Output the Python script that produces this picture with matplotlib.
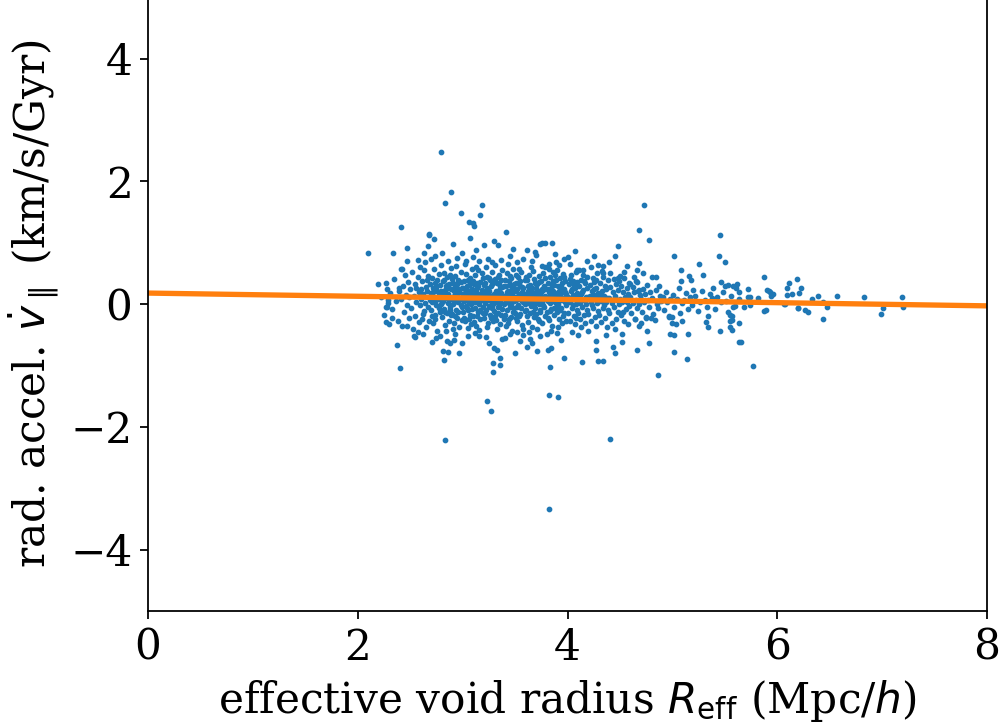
import numpy as np
import matplotlib as mpl
mpl.use("Agg")
import matplotlib.pyplot as plt

# (R_eff [Mpc/h], radial acceleration [km/s/Gyr])
core = [
    (2.22, 0.12), (2.25, -0.18), (2.27, 0.35), (2.29, 0.02),
    (2.31, 0.18), (2.33, -0.08), (2.35, 0.41), (2.36, 0.05), (2.38, -0.27), (2.39, 0.22),
    (2.41, 0.08), (2.42, -0.35), (2.43, 0.29), (2.44, -0.12), (2.45, 0.47), (2.46, 0.15),
    (2.47, -0.02), (2.48, 0.36), (2.49, -0.22), (2.49, 0.11),
    (2.50, 0.25), (2.51, -0.06), (2.52, 0.52), (2.53, -0.41), (2.54, 0.13), (2.55, 0.33),
    (2.55, -0.19), (2.56, 0.04), (2.57, 0.44), (2.58, -0.29), (2.58, 0.19), (2.59, -0.01),
    (2.59, 0.61), (2.56, 0.27),
    (2.60, 0.09), (2.61, -0.24), (2.61, 0.38), (2.62, 0.16), (2.63, -0.11), (2.63, 0.55),
    (2.64, 0.02), (2.65, 0.28), (2.65, -0.38), (2.66, 0.21), (2.67, -0.05), (2.67, 0.46),
    (2.68, 0.11), (2.68, -0.27), (2.69, 0.33), (2.69, 0.06), (2.64, 0.68), (2.62, -0.16),
    (2.66, 0.40), (2.60, 0.24),
    (2.70, 0.18), (2.70, -0.09), (2.71, 0.42), (2.71, 0.03), (2.72, -0.31), (2.72, 0.26),
    (2.73, 0.12), (2.73, 0.57), (2.74, -0.17), (2.74, 0.35), (2.75, 0.07), (2.75, -0.02),
    (2.76, 0.22), (2.76, -0.43), (2.77, 0.49), (2.77, 0.15), (2.78, -0.13), (2.78, 0.31),
    (2.79, 0.01), (2.79, 0.63), (2.72, 0.19), (2.74, -0.24), (2.76, 0.39), (2.78, 0.09),
    (2.71, -0.20), (2.75, 0.28), (2.77, -0.06), (2.79, 0.21),
    (2.80, 0.14), (2.80, -0.21), (2.81, 0.37), (2.81, 0.05), (2.82, -0.08), (2.82, 0.51),
    (2.83, 0.23), (2.83, -0.34), (2.84, 0.10), (2.84, 0.29), (2.85, -0.14), (2.85, 0.44),
    (2.86, 0.02), (2.86, 0.17), (2.87, -0.27), (2.87, 0.33), (2.88, 0.08), (2.88, -0.04),
    (2.89, 0.25), (2.89, 0.59), (2.81, 0.20), (2.83, -0.12), (2.85, 0.31), (2.87, 0.12),
    (2.89, -0.18), (2.82, 0.40), (2.84, -0.44), (2.86, 0.27), (2.88, 0.47), (2.80, 0.03),
    (2.85, 0.16), (2.88, -0.10),
    (2.90, 0.11), (2.90, -0.16), (2.91, 0.34), (2.91, 0.00), (2.92, 0.22), (2.92, -0.30),
    (2.93, 0.46), (2.93, 0.07), (2.94, -0.09), (2.94, 0.28), (2.95, 0.15), (2.95, -0.23),
    (2.96, 0.39), (2.96, 0.04), (2.97, 0.19), (2.97, -0.37), (2.98, 0.53), (2.98, 0.10),
    (2.99, -0.05), (2.99, 0.26), (2.90, 0.41), (2.91, -0.41), (2.92, 0.13), (2.93, -0.19),
    (2.94, 0.62), (2.95, 0.32), (2.96, -0.12), (2.97, 0.06), (2.98, 0.36), (2.99, -0.26),
    (2.92, 0.03), (2.94, 0.18), (2.96, 0.24), (2.98, -0.01), (2.93, 0.29),
    (3.00, 0.17), (3.00, -0.12), (3.01, 0.38), (3.01, 0.05), (3.02, -0.28), (3.02, 0.24),
    (3.03, 0.09), (3.03, 0.49), (3.04, -0.06), (3.04, 0.30), (3.05, 0.14), (3.05, -0.39),
    (3.06, 0.21), (3.06, 0.02), (3.07, 0.43), (3.07, -0.17), (3.08, 0.11), (3.08, 0.34),
    (3.09, -0.08), (3.09, 0.58), (3.00, 0.27), (3.01, -0.22), (3.02, 0.15), (3.03, -0.03),
    (3.04, 0.07), (3.05, 0.40), (3.06, -0.25), (3.07, 0.19), (3.08, -0.33), (3.09, 0.25),
    (3.02, 0.66), (3.04, 0.19), (3.06, 0.31), (3.08, 0.00), (3.05, -0.10), (3.07, 0.08),
    (3.10, 0.13), (3.10, -0.19), (3.11, 0.32), (3.11, 0.04), (3.12, 0.47), (3.12, -0.07),
    (3.13, 0.20), (3.13, -0.35), (3.14, 0.09), (3.14, 0.27), (3.15, -0.13), (3.15, 0.55),
    (3.16, 0.16), (3.16, 0.01), (3.17, 0.36), (3.17, -0.24), (3.18, 0.06), (3.18, 0.23),
    (3.19, -0.04), (3.19, 0.42), (3.10, 0.38), (3.11, -0.29), (3.12, 0.12), (3.13, 0.03),
    (3.14, -0.20), (3.15, 0.29), (3.16, -0.42), (3.17, 0.10), (3.18, 0.50), (3.19, 0.18),
    (3.11, 0.22), (3.13, 0.61), (3.15, 0.07), (3.17, -0.09), (3.19, -0.15), (3.14, 0.34),
    (3.20, 0.10), (3.20, -0.23), (3.21, 0.35), (3.21, 0.02), (3.22, 0.18), (3.22, -0.10),
    (3.23, 0.45), (3.23, 0.08), (3.24, -0.31), (3.24, 0.25), (3.25, 0.13), (3.25, -0.03),
    (3.26, 0.39), (3.26, -0.18), (3.27, 0.05), (3.27, 0.29), (3.28, -0.07), (3.28, 0.52),
    (3.29, 0.15), (3.29, -0.27), (3.20, 0.31), (3.21, -0.14), (3.22, 0.60), (3.23, -0.38),
    (3.24, 0.06), (3.25, 0.21), (3.26, 0.11), (3.27, -0.22), (3.28, 0.33), (3.29, 0.00),
    (3.21, 0.19), (3.23, 0.27), (3.25, 0.43), (3.27, 0.14), (3.29, 0.37), (3.26, -0.05),
    (3.30, 0.16), (3.30, -0.11), (3.31, 0.41), (3.31, 0.07), (3.32, -0.26), (3.32, 0.22),
    (3.33, 0.03), (3.33, 0.34), (3.34, -0.15), (3.34, 0.12), (3.35, 0.48), (3.35, -0.02),
    (3.36, 0.26), (3.36, -0.33), (3.37, 0.09), (3.37, 0.18), (3.38, -0.08), (3.38, 0.56),
    (3.39, 0.30), (3.39, 0.01), (3.30, 0.36), (3.31, -0.20), (3.32, 0.10), (3.33, -0.40),
    (3.34, 0.44), (3.35, 0.20), (3.36, 0.05), (3.37, -0.17), (3.38, 0.28), (3.39, -0.24),
    (3.31, 0.63), (3.33, 0.15), (3.35, 0.32), (3.37, 0.39), (3.39, 0.13), (3.34, -0.05),
    (3.40, 0.14), (3.40, -0.17), (3.41, 0.29), (3.41, 0.03), (3.42, 0.50), (3.42, -0.09),
    (3.43, 0.21), (3.43, -0.30), (3.44, 0.07), (3.44, 0.37), (3.45, -0.04), (3.45, 0.17),
    (3.46, 0.43), (3.46, -0.21), (3.47, 0.11), (3.47, 0.26), (3.48, -0.12), (3.48, 0.58),
    (3.49, 0.05), (3.49, 0.33), (3.40, 0.40), (3.41, -0.36), (3.42, 0.19), (3.43, 0.09),
    (3.44, -0.25), (3.45, 0.31), (3.46, 0.00), (3.47, -0.44), (3.48, 0.22), (3.49, -0.07),
    (3.41, 0.12), (3.43, 0.65), (3.45, 0.46), (3.47, 0.15), (3.49, 0.24), (3.44, 0.02),
    (3.50, 0.12), (3.50, -0.14), (3.51, 0.34), (3.51, 0.06), (3.52, -0.27), (3.52, 0.24),
    (3.53, 0.45), (3.53, -0.01), (3.54, 0.16), (3.54, -0.19), (3.55, 0.30), (3.55, 0.08),
    (3.56, -0.06), (3.56, 0.52), (3.57, 0.19), (3.57, -0.34), (3.58, 0.03), (3.58, 0.27),
    (3.59, -0.11), (3.59, 0.40), (3.50, 0.21), (3.51, -0.23), (3.52, 0.10), (3.53, 0.35),
    (3.54, 0.57), (3.55, -0.16), (3.56, 0.13), (3.57, 0.05), (3.58, -0.40), (3.59, 0.17),
    (3.51, 0.48), (3.53, 0.14), (3.55, 0.38), (3.57, 0.28), (3.59, 0.01), (3.52, -0.04),
    (3.60, 0.15), (3.60, -0.10), (3.61, 0.39), (3.61, 0.02), (3.62, 0.22), (3.62, -0.29),
    (3.63, 0.07), (3.63, 0.48), (3.64, -0.15), (3.64, 0.31), (3.65, 0.12), (3.65, -0.03),
    (3.66, 0.26), (3.66, -0.37), (3.67, 0.54), (3.67, 0.09), (3.68, -0.21), (3.68, 0.18),
    (3.69, 0.35), (3.69, -0.07), (3.60, 0.44), (3.61, -0.19), (3.62, 0.13), (3.63, -0.45),
    (3.64, 0.04), (3.65, 0.60), (3.66, 0.20), (3.67, -0.12), (3.68, 0.41), (3.69, 0.11),
    (3.62, 0.29), (3.64, 0.16), (3.66, 0.06), (3.68, 0.01),
    (3.70, 0.13), (3.70, -0.16), (3.71, 0.33), (3.71, 0.04), (3.72, -0.25), (3.72, 0.21),
    (3.73, 0.46), (3.73, 0.00), (3.74, 0.17), (3.74, -0.09), (3.75, 0.38), (3.75, 0.10),
    (3.76, -0.31), (3.76, 0.25), (3.77, 0.06), (3.77, 0.51), (3.78, -0.05), (3.78, 0.29),
    (3.79, 0.14), (3.79, -0.20), (3.70, 0.27), (3.71, -0.41), (3.72, 0.09), (3.73, 0.36),
    (3.74, -0.13), (3.75, 0.19), (3.76, 0.62), (3.77, -0.02), (3.78, 0.12), (3.79, 0.42),
    (3.71, 0.16), (3.73, -0.28), (3.75, 0.03), (3.77, 0.23),
    (3.80, 0.11), (3.80, -0.13), (3.81, 0.35), (3.81, 0.05), (3.82, 0.20), (3.82, -0.26),
    (3.83, 0.44), (3.83, 0.02), (3.84, -0.08), (3.84, 0.27), (3.85, 0.15), (3.85, -0.35),
    (3.86, 0.53), (3.86, 0.08), (3.87, -0.17), (3.87, 0.31), (3.88, 0.03), (3.88, 0.18),
    (3.89, -0.04), (3.89, 0.40), (3.80, 0.24), (3.81, -0.22), (3.82, 0.58), (3.83, 0.13),
    (3.84, -0.43), (3.85, 0.32), (3.86, 0.21), (3.87, -0.06), (3.88, 0.47), (3.89, 0.09),
    (3.83, -0.11), (3.86, 0.37),
    (3.90, 0.14), (3.90, -0.12), (3.91, 0.30), (3.91, 0.01), (3.92, -0.24), (3.92, 0.22),
    (3.93, 0.07), (3.93, 0.42), (3.94, -0.07), (3.94, 0.18), (3.95, 0.34), (3.95, -0.30),
    (3.96, 0.10), (3.96, 0.49), (3.97, -0.15), (3.97, 0.25), (3.98, 0.04), (3.98, 0.37),
    (3.99, -0.02), (3.99, 0.16), (3.90, 0.56), (3.91, -0.38), (3.92, 0.12), (3.93, -0.09),
    (3.94, 0.28), (3.95, 0.06), (3.96, -0.20), (3.97, 0.44), (3.98, 0.20), (3.99, -0.27),
    (4.00, 0.12), (4.00, -0.15), (4.01, 0.33), (4.02, 0.03), (4.02, -0.28), (4.03, 0.21),
    (4.03, 0.47), (4.04, -0.06), (4.05, 0.15), (4.05, 0.38), (4.06, -0.19), (4.06, 0.08),
    (4.07, 0.26), (4.07, -0.33), (4.08, 0.52), (4.08, 0.01), (4.09, 0.18), (4.09, -0.10),
    (4.01, 0.09), (4.02, 0.41), (4.04, 0.24), (4.05, -0.02), (4.06, 0.31), (4.07, 0.11),
    (4.08, -0.22), (4.09, 0.36),
    (4.10, 0.13), (4.10, -0.14), (4.11, 0.29), (4.12, 0.02), (4.12, -0.25), (4.13, 0.40),
    (4.13, 0.17), (4.14, -0.05), (4.15, 0.23), (4.15, 0.48), (4.16, -0.18), (4.16, 0.07),
    (4.17, 0.34), (4.17, -0.30), (4.18, 0.12), (4.18, 0.00), (4.19, 0.27), (4.19, -0.09),
    (4.11, 0.55), (4.13, -0.37), (4.14, 0.19), (4.16, 0.38), (4.18, 0.09), (4.19, 0.44),
    (4.20, 0.11), (4.20, -0.16), (4.21, 0.31), (4.22, 0.04), (4.22, -0.27), (4.23, 0.22),
    (4.24, 0.43), (4.24, -0.07), (4.25, 0.15), (4.25, 0.36), (4.26, -0.21), (4.26, 0.08),
    (4.27, 0.26), (4.27, -0.35), (4.28, 0.02), (4.28, 0.50), (4.29, 0.18), (4.29, -0.11),
    (4.21, 0.13), (4.23, -0.02), (4.25, 0.24), (4.27, 0.40),
    (4.30, 0.12), (4.30, -0.18), (4.31, 0.34), (4.32, 0.05), (4.32, -0.29), (4.33, 0.21),
    (4.34, 0.45), (4.34, -0.06), (4.35, 0.14), (4.36, 0.30), (4.36, -0.22), (4.37, 0.03),
    (4.37, 0.25), (4.38, -0.38), (4.38, 0.10), (4.39, 0.39), (4.39, -0.10), (4.31, 0.17),
    (4.33, 0.54), (4.35, -0.01),
    (4.40, 0.10), (4.40, -0.14), (4.41, 0.28), (4.42, 0.02), (4.42, -0.31), (4.43, 0.19),
    (4.44, 0.41), (4.44, -0.05), (4.45, 0.13), (4.46, 0.33), (4.46, -0.24), (4.47, 0.06),
    (4.48, 0.23), (4.48, -0.12), (4.49, 0.37), (4.49, 0.00), (4.41, 0.50), (4.45, -0.40),
    (4.50, 0.09), (4.51, -0.17), (4.51, 0.30), (4.52, 0.03), (4.53, 0.20), (4.54, -0.27),
    (4.54, 0.42), (4.55, 0.11), (4.56, -0.08), (4.57, 0.26), (4.57, 0.04), (4.58, -0.33),
    (4.58, 0.16), (4.59, 0.35), (4.59, -0.03), (4.53, -0.12),
    (4.60, 0.12), (4.61, -0.15), (4.62, 0.28), (4.62, 0.02), (4.63, 0.19), (4.64, -0.24),
    (4.65, 0.38), (4.65, 0.07), (4.66, -0.06), (4.67, 0.22), (4.68, 0.01), (4.68, -0.35),
    (4.69, 0.15), (4.63, 0.44),
    (4.70, 0.08), (4.71, -0.13), (4.72, 0.25), (4.73, 0.03), (4.74, 0.17), (4.75, -0.21),
    (4.76, 0.31), (4.77, 0.06), (4.78, -0.04), (4.79, 0.20),
    (4.81, 0.10), (4.82, -0.16), (4.84, 0.23), (4.85, 0.01), (4.86, -0.07), (4.88, 0.14),
    (4.89, 0.05),
    (4.91, 0.12), (4.92, -0.10), (4.94, 0.20), (4.95, 0.03), (4.97, -0.19), (4.98, 0.08),
    (5.01, 0.15), (5.02, -0.05), (5.04, 0.09), (5.06, 0.27), (5.07, -0.14), (5.09, 0.02),
    (5.11, 0.06), (5.13, 0.18), (5.15, -0.08), (5.17, 0.11), (5.19, -0.02),
    (5.22, 0.13), (5.24, -0.11), (5.26, 0.04), (5.28, 0.21),
    (5.31, 0.07), (5.33, -0.04), (5.36, 0.16), (5.38, 0.10),
    (5.41, -0.08), (5.43, 0.12), (5.46, 0.03), (5.48, 0.19),
    (5.51, 0.05), (5.53, -0.12), (5.56, 0.14),
]

# points above the main cloud
upper_tail = [
    (2.79, 2.48), (2.89, 1.82), (2.83, 1.64), (2.98, 1.48), (3.18, 1.62), (3.17, 1.45),
    (3.06, 1.33), (3.10, 1.32), (3.11, 1.28), (2.41, 1.26), (2.68, 1.15), (2.68, 1.12),
    (3.41, 1.17), (2.73, 1.06), (3.07, 1.07), (2.67, 0.95), (2.47, 0.92), (2.91, 0.98),
    (3.20, 0.96), (3.30, 1.03), (3.34, 0.96), (2.10, 0.84), (2.34, 0.84), (2.80, 0.83),
    (2.74, 0.79), (2.70, 0.73), (2.99, 0.84), (3.10, 0.77), (2.47, 0.71), (3.61, 0.88),
    (3.74, 0.98), (3.76, 1.00), (2.19, 0.32), (2.28, 0.24), (2.41, 0.58), (2.42, 0.57),
    (2.39, 0.26), (2.29, 0.07), (2.27, -0.05),
    (4.73, 1.61), (4.68, 1.20), (4.78, 1.04), (4.48, 0.95), (4.45, 0.79), (4.68, 0.67),
    (5.02, 0.78), (5.45, 1.13), (5.44, 0.78), (5.50, 0.68), (5.25, 0.66), (5.08, 0.55),
    (5.08, 0.38), (5.29, 0.48), (5.16, 0.46), (5.18, 0.39), (5.20, 0.23), (5.46, 0.36),
    (5.39, 0.27), (5.50, 0.30), (5.53, 0.31), (3.85, 0.99), (3.79, 1.00), (4.07, 0.86),
    (3.88, 0.82), (3.89, 0.68), (3.97, 0.73), (4.00, 0.77), (3.82, 0.66), (3.79, 0.61),
    (4.22, 0.60), (4.15, 0.56), (4.09, 0.56), (4.34, 0.62), (4.34, 0.50), (4.54, 0.53),
    (4.50, 0.46), (4.48, 0.43), (4.66, 0.55), (4.72, 0.50), (4.81, 0.45), (4.84, 0.44),
    (4.87, 0.30), (4.60, 0.33), (4.66, 0.36), (4.68, 0.23),
    (2.57, 0.72), (2.86, 0.70), (2.95, 0.75), (3.03, 0.71), (3.16, 0.70), (3.24, 0.74),
    (3.28, 0.68), (3.37, 0.72), (3.45, 0.78), (3.52, 0.69), (3.58, 0.74), (3.66, 0.70),
    (3.70, 0.80), (3.92, 0.64), (4.02, 0.66), (4.19, 0.70), (4.29, 0.64), (4.40, 0.68),
    (2.63, 0.83), (3.13, 0.88), (3.48, 0.90), (3.69, 0.85), (4.25, 0.79), (4.57, 0.62),
]

# points below the main cloud
lower_tail = [
    (2.28, -0.05), (2.27, -0.29), (2.30, -0.33), (2.33, -0.23), (2.37, -0.67), (2.40, -1.04),
    (2.54, -0.52), (2.55, -0.53), (2.57, -0.45), (2.47, -0.36), (2.71, -0.61), (2.78, -0.52),
    (2.81, -0.77), (2.86, -0.78), (2.82, -0.91), (2.85, -0.60), (2.88, -0.63), (2.83, -2.21),
    (2.97, -0.80), (2.99, -0.64), (2.92, -0.58), (3.16, -0.52), (3.22, -0.53), (3.25, -0.63),
    (3.30, -0.71), (3.33, -0.75), (3.29, -0.96), (3.29, -1.11), (3.36, -0.88), (3.36, -0.99),
    (3.38, -0.57), (3.23, -1.58), (3.27, -1.74), (3.50, -0.79), (3.61, -0.69), (3.66, -0.64),
    (3.64, -0.56), (3.71, -0.77), (3.81, -0.74), (3.83, -1.02), (3.82, -1.48), (3.82, -3.34),
    (3.45, -0.48), (3.52, -0.45), (3.58, -0.50),
    (3.80, -0.49), (3.84, -0.72), (3.94, -0.59), (3.97, -0.88), (3.91, -1.51), (4.14, -0.95),
    (4.04, -0.46), (4.27, -0.60), (4.27, -0.75), (4.29, -0.92), (4.34, -0.92), (4.43, -0.70),
    (4.45, -0.79), (4.41, -2.20), (4.52, -0.48), (4.52, -0.61), (4.66, -0.75), (4.78, -0.63),
    (4.76, -0.43), (4.86, -1.16), (4.98, -0.48), (5.02, -0.50), (5.02, -0.78), (5.15, -0.48),
    (5.14, -0.90), (5.45, -0.44), (5.32, -0.29), (5.34, -0.38), (5.55, -0.27), (5.55, -0.38),
    (5.64, -0.61), (4.64, -0.25), (4.75, -0.22), (4.80, -0.23), (4.97, -0.21), (5.00, -0.21),
    (5.34, -0.19), (5.55, -0.17), (5.58, -0.04), (4.70, -0.31), (4.83, -0.26), (5.00, -0.30),
    (5.09, -0.28), (5.03, -0.32),
    (2.62, -0.48), (2.75, -0.55), (2.93, -0.49), (3.05, -0.52), (3.12, -0.47), (3.40, -0.55),
    (3.55, -0.60), (3.74, -0.52), (3.90, -0.47), (4.10, -0.50), (4.20, -0.44), (4.37, -0.51),
]

# the sparse tail of large voids
large_voids = [
    (5.87, 0.44), (6.19, 0.41), (6.11, 0.35), (6.23, 0.27), (6.21, 0.18), (6.14, 0.16),
    (6.09, 0.15), (6.09, 0.27), (5.90, 0.23), (5.92, 0.21), (5.93, 0.20), (5.94, 0.14),
    (5.96, 0.16), (5.82, 0.10), (5.72, 0.24), (5.61, 0.26), (5.62, 0.32), (5.58, 0.29),
    (5.64, 0.20), (5.64, 0.09), (5.72, 0.11), (5.74, 0.11), (5.68, -0.04), (5.60, -0.03),
    (5.74, -0.02), (5.87, -0.11), (5.89, -0.09), (5.64, -0.30), (5.65, -0.61), (5.77, -1.00),
    (5.57, -0.26), (5.57, -0.42), (5.57, -0.19), (6.06, 0.00), (6.07, 0.00), (6.20, -0.06),
    (6.20, -0.07), (6.26, -0.09), (6.29, -0.12), (6.33, 0.09), (6.39, 0.14), (6.44, 0.03),
    (6.47, -0.04), (6.44, -0.25), (6.57, 0.13), (6.83, 0.11), (6.99, -0.16), (7.01, -0.06),
    (7.19, 0.11), (7.20, -0.05),
]

# linear fit drawn through the points
fit_slope = -0.026
fit_intercept = 0.18
fit_range = [0, 8]

plt.rcParams['font.family'] = 'serif'
plt.rcParams['font.serif'] = ['DejaVu Serif']
plt.rcParams['mathtext.fontset'] = 'dejavusans'
plt.rcParams['font.size'] = 19

fig = plt.figure(figsize=(6.25, 4.53125), dpi=160)
ax = fig.add_axes([0.148, 0.157, 0.839, 0.847])

for pts in (core, upper_tail, lower_tail, large_voids):
    x, y = zip(*pts)
    ax.scatter(x, y, s=2.5, color='C0')

fx = np.array(fit_range, dtype=float)
ax.plot(fx, np.polyval([fit_slope, fit_intercept], fx), color='C1', lw=2.4)

ax.set_xlim(0, 8)
ax.set_ylim(-5, 5)
ax.set_xticks([0, 2, 4, 6, 8])
ax.set_yticks([-4, -2, 0, 2, 4])
ax.set_xlabel(r'effective void radius $R_{\rm eff}$ (Mpc/$h$)')
ax.set_ylabel(r'rad. accel. $\dot{v}_\parallel$ (km/s/Gyr)')

plt.savefig('out.png', dpi=160)
